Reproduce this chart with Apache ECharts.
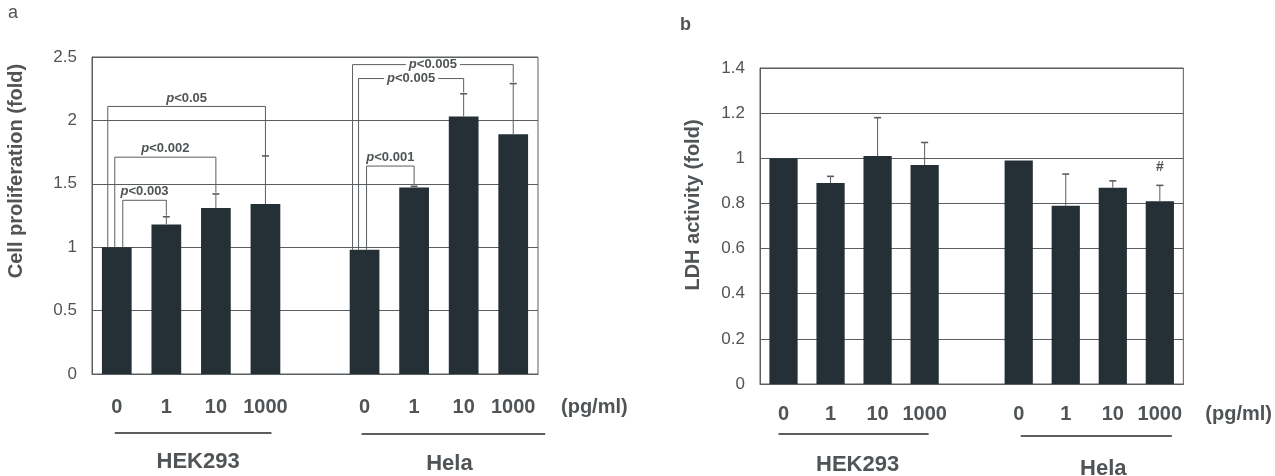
<!DOCTYPE html>
<html><head><meta charset="utf-8">
<script src="https://cdn.jsdelivr.net/npm/echarts@6/dist/echarts.min.js"></script>
<style>html,body{margin:0;padding:0;background:#fff}#c{width:1275px;height:476px}</style>
</head><body><div id="c"></div>
<script>
// ---------------- DATA ----------------
const doseLabels = ['0', '1', '10', '1000', '', '0', '1', '10', '1000'];
const unitLabel = '(pg/ml)';
const groupNames = ['HEK293', 'Hela'];
const groupRanges = [[0, 3], [5, 8]];

// panel a : cell proliferation
const prolifTicks = [0, 0.5, 1, 1.5, 2, 2.5];
const prolifMean = [1.00, 1.18, 1.31, 1.34, null, 0.98, 1.47, 2.03, 1.89];
const prolifUpper = [null, 1.24, 1.42, 1.72, null, null, 1.48, 2.21, 2.29];
// [fromCat, toCat, bracketHeight, leftEnd, rightEnd, label]
const prolifBrackets = [
  [0, 3, 2.11, 1.00, 1.72, '<0.05'],
  [0, 2, 1.71, 1.00, 1.43, '<0.002'],
  [0, 1, 1.37, 1.00, 1.25, '<0.003'],
  [5, 8, 2.44, 0.98, 2.30, '<0.005'],
  [5, 7, 2.33, 0.98, 2.22, '<0.005'],
  [5, 6, 1.64, 0.98, 1.49, '<0.001']
];

// panel b : LDH activity
const ldhTicks = [0, 0.2, 0.4, 0.6, 0.8, 1, 1.2, 1.4];
const ldhMean = [1.00, 0.89, 1.01, 0.97, null, 0.99, 0.79, 0.87, 0.81];
const ldhUpper = [null, 0.92, 1.18, 1.07, null, null, 0.93, 0.90, 0.88];
const ldhMarks = [[8, 0.93, '#']];

// ---------------- STYLE / LAYOUT ----------------
const TXT = '#505456';
const LINE = '#5a5e60';
const BAR = '#243035';
const FONT = '"Liberation Sans", Arial, sans-serif';
// detect the narrow face for y tick labels
const NARROW = (function () {
  const c = document.createElement('canvas').getContext('2d');
  c.font = '20px "Liberation Sans Narrow", monospace'; const a = c.measureText('1000.5').width;
  c.font = '20px monospace'; const b = c.measureText('1000.5').width;
  return Math.abs(a - b) > 0.5 ? '"Liberation Sans Narrow", "Liberation Sans", sans-serif' : FONT;
})();
const Y_LABEL_SIZE = NARROW === FONT ? 17 : 20;
// bracket left-leg pixel offsets and label mode (inline = text breaks the line)
const prolifBracketStyle = [
  {off: -9, inline: false}, {off: -2, inline: false}, {off: 6, inline: false},
  {off: -12, inline: true}, {off: -6, inline: true}, {off: 2, inline: false}
];
const groupLineStyle = [
  [{l: -2, r: 6, dy: 59, ty: 88, tx: 5}, {l: -3, r: 32, dy: 60, ty: 90, tx: -4}],
  [{l: -5, r: 4, dy: 50, ty: 81, tx: 4}, {l: 2, r: 12, dy: 52, ty: 85, tx: 7}]
];
const xLabelMargin = [23, 20];

function yAxis(gi, ticks) {
  const iv = ticks[1] - ticks[0];
  return {
    type: 'value', gridIndex: gi, min: ticks[0], max: ticks[ticks.length - 1], interval: iv,
    axisLine: {show: true, lineStyle: {color: LINE, width: 1}},
    axisTick: {show: false},
    splitLine: {show: true, lineStyle: {color: LINE, width: 1}},
    axisLabel: {color: TXT, fontFamily: NARROW, fontSize: Y_LABEL_SIZE, margin: 15,
      formatter: v => String(Math.round(v * 10) / 10)}
  };
}
function xAxis(gi, gap) {
  return {
    type: 'category', gridIndex: gi, data: doseLabels,
    axisLine: {show: true, lineStyle: {color: LINE, width: 1}},
    axisTick: {show: false},
    axisLabel: {color: TXT, fontFamily: FONT, fontSize: 20, fontWeight: 'bold', margin: xLabelMargin[gi], interval: 0},
    name: unitLabel, nameLocation: 'end', nameGap: gap,
    nameTextStyle: {color: TXT, fontFamily: FONT, fontSize: 20, fontWeight: 'bold',
      verticalAlign: 'top', padding: [xLabelMargin[gi], 0, 0, 0]}
  };
}
function barSeries(gi, mean) {
  return {type: 'bar', xAxisIndex: gi, yAxisIndex: gi, data: mean, barWidth: '60%',
    itemStyle: {color: BAR}, z: 2, silent: true};
}
function errSeries(gi, mean, upper) {
  const data = [];
  mean.forEach((m, i) => { if (upper[i] != null) data.push([i, m, upper[i]]); });
  return {
    type: 'custom', xAxisIndex: gi, yAxisIndex: gi, z: 3, silent: true, data,
    renderItem(params, api) {
      const b = api.coord([api.value(0), api.value(1)]);
      const t = api.coord([api.value(0), api.value(2)]);
      return {type: 'group', children: [
        {type: 'line', shape: {x1: t[0], y1: b[1], x2: t[0], y2: t[1]}, style: {stroke: LINE, lineWidth: 1}},
        {type: 'line', shape: {x1: t[0] - 3.5, y1: t[1], x2: t[0] + 3.5, y2: t[1]}, style: {stroke: LINE, lineWidth: 1.6}}
      ]};
    }
  };
}
function bracketSeries(gi, brackets, styles) {
  return {
    type: 'custom', xAxisIndex: gi, yAxisIndex: gi, z: 4, silent: true,
    data: brackets.map(b => [b[0], b[1], b[2], b[3], b[4]]),
    renderItem(params, api) {
      const b = brackets[params.dataIndex], st = styles[params.dataIndex];
      const pl = api.coord([b[0], b[3]]), pr = api.coord([b[1], b[4]]), ph = api.coord([b[0], b[2]]);
      const xl = pl[0] + st.off, xr = pr[0], yh = ph[1];
      return {type: 'group', children: [
        {type: 'polyline', shape: {points: [[xl, pl[1]], [xl, yh], [xr, yh], [xr, pr[1]]]},
          style: {stroke: LINE, fill: null, lineWidth: 1}},
        {type: 'text', x: (xl + xr) / 2, y: st.inline ? yh : yh - 2, z2: 10,
          style: {text: '{i|p}{n|' + b[5] + '}', align: 'center',
            verticalAlign: st.inline ? 'middle' : 'bottom',
            backgroundColor: st.inline ? '#fff' : 'transparent', padding: st.inline ? [0, 3] : 0,
            rich: {
              i: {fontFamily: FONT, fontSize: 13, fontWeight: 'bold', fontStyle: 'italic', fill: TXT},
              n: {fontFamily: FONT, fontSize: 13, fontWeight: 'bold', fill: TXT}
            }}}
      ]};
    }
  };
}
function markSeries(gi, marks) {
  return {
    type: 'custom', xAxisIndex: gi, yAxisIndex: gi, z: 4, silent: true,
    data: marks.map(m => [m[0], m[1]]),
    renderItem(params, api) {
      const p = api.coord([api.value(0), api.value(1)]);
      return {type: 'text', x: p[0], y: p[1],
        style: {text: marks[params.dataIndex][2], align: 'center', verticalAlign: 'bottom',
          fontFamily: FONT, fontSize: 14, fontWeight: 'bold', fill: TXT}};
    }
  };
}
function groupSeries(gi) {
  return {
    type: 'custom', xAxisIndex: gi, yAxisIndex: gi, z: 4, silent: true, clip: false,
    data: groupRanges.map(r => [r[0], r[1]]),
    renderItem(params, api) {
      const st = groupLineStyle[gi][params.dataIndex];
      const p0 = api.coord([api.value(0), 0]), p1 = api.coord([api.value(1), 0]);
      const x0 = p0[0] + st.l, x1 = p1[0] + st.r;
      return {type: 'group', children: [
        {type: 'line', shape: {x1: x0, y1: p0[1] + st.dy, x2: x1, y2: p0[1] + st.dy},
          style: {stroke: LINE, lineWidth: 1.8}},
        {type: 'text', x: (x0 + x1) / 2 + st.tx, y: p0[1] + st.ty,
          style: {text: groupNames[params.dataIndex], align: 'center', verticalAlign: 'middle',
            fontFamily: FONT, fontSize: 22, fontWeight: 'bold', fill: TXT}}
      ]};
    }
  };
}

const chart = echarts.init(document.getElementById('c'), null, {renderer: 'canvas'});
chart.setOption({
  animation: false,
  backgroundColor: '#fff',
  grid: [
    {left: 92, right: 737, top: 57, bottom: 102, show: true, borderColor: LINE, borderWidth: 1},
    {left: 760, right: 88, top: 68, bottom: 92, show: true, borderColor: LINE, borderWidth: 1}
  ],
  xAxis: [xAxis(0, 23), xAxis(1, 22)],
  yAxis: [yAxis(0, prolifTicks), yAxis(1, ldhTicks)],
  graphic: [
    {type: 'text', left: 8, top: 4, style: {text: 'a', fontFamily: FONT, fontSize: 18, fill: TXT}},
    {type: 'text', left: 680, top: 16, style: {text: 'b', fontFamily: FONT, fontSize: 18, fontWeight: 'bold', fill: TXT}},
    {type: 'text', x: 16, y: 171, rotation: Math.PI / 2,
      style: {text: 'Cell proliferation (fold)', align: 'center', verticalAlign: 'middle',
        fontFamily: FONT, fontSize: 20, fontWeight: 'bold', fill: TXT}},
    {type: 'text', x: 693, y: 205, rotation: Math.PI / 2,
      style: {text: 'LDH activity (fold)', align: 'center', verticalAlign: 'middle',
        fontFamily: FONT, fontSize: 20, fontWeight: 'bold', fill: TXT}}
  ],
  series: [
    barSeries(0, prolifMean), errSeries(0, prolifMean, prolifUpper),
    bracketSeries(0, prolifBrackets, prolifBracketStyle), groupSeries(0),
    barSeries(1, ldhMean), errSeries(1, ldhMean, ldhUpper), markSeries(1, ldhMarks), groupSeries(1)
  ]
});
</script></body></html>
